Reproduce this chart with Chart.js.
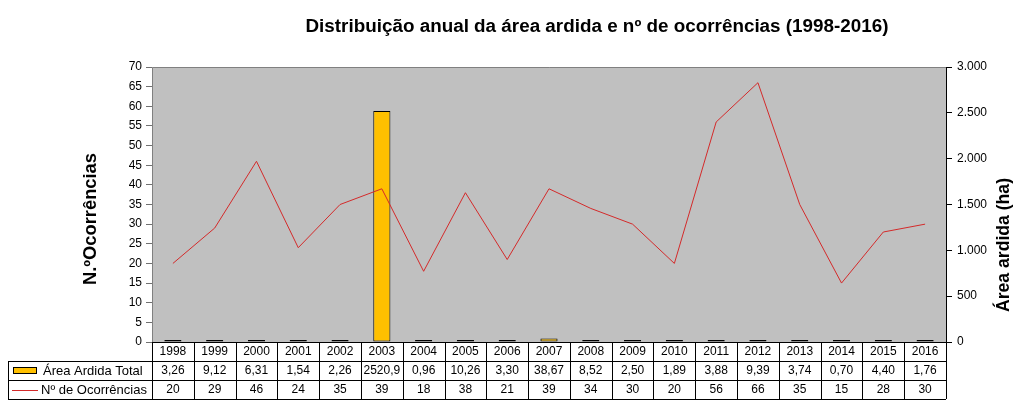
<!DOCTYPE html>
<html>
<head>
<meta charset="utf-8">
<script src="https://cdn.jsdelivr.net/npm/chart.js@4.4.0/dist/chart.umd.min.js"></script>
<style>
  body { margin: 0; background: #fff; }
  canvas { display: block; }
</style>
</head>
<body>
<canvas id="grafico" width="1022" height="401"></canvas>
<script>
// dados
var anos = ["1998", "1999", "2000", "2001", "2002", "2003", "2004", "2005", "2006", "2007", "2008", "2009", "2010", "2011", "2012", "2013", "2014", "2015", "2016"];
var areaArdida = [3.26, 9.12, 6.31, 1.54, 2.26, 2520.9, 0.96, 10.26, 3.30, 38.67, 8.52, 2.50, 1.89, 3.88, 9.39, 3.74, 0.70, 4.40, 1.76];
var ocorrencias = [20, 29, 46, 24, 35, 39, 18, 38, 21, 39, 34, 30, 20, 56, 66, 35, 15, 28, 30];
var titulo = "Distribuição anual da área ardida e nº de ocorrências (1998-2016)";

var FONTE = "Liberation Sans, Arial, sans-serif";

function milhares(v) {
  return String(v).replace(/\B(?=(\d{3})+(?!\d))/g, ".");
}
function decimal(v) {
  return (v >= 1000 ? v.toFixed(1) : v.toFixed(2)).replace(".", ",");
}
// texto ajustado a uma largura (como o Excel comprime o titulo)
function textoLargura(ctx, txt, cx, cy, larg) {
  var w = ctx.measureText(txt).width;
  ctx.save();
  ctx.translate(cx, cy);
  ctx.scale(larg / w, 1);
  ctx.textAlign = 'center';
  ctx.fillText(txt, 0, 0);
  ctx.restore();
}

// fundo cinzento, tabela de dados e titulos
var extras = {
  id: 'extras',
  beforeDraw: function(chart) {
    var ctx = chart.ctx, a = chart.chartArea;
    ctx.save();
    ctx.fillStyle = '#fff';
    ctx.fillRect(0, 0, chart.width, chart.height);
    ctx.fillStyle = '#c0c0c0';
    ctx.fillRect(a.left, a.top, a.right - a.left, a.bottom - a.top);
    ctx.strokeStyle = '#808080';
    ctx.lineWidth = 1;
    ctx.beginPath();
    ctx.moveTo(a.left + 0.5, a.bottom);
    ctx.lineTo(a.left + 0.5, a.top + 0.5);
    ctx.lineTo(a.right, a.top + 0.5);
    ctx.stroke();
    ctx.restore();
  },
  afterDraw: function(chart) {
    var ctx = chart.ctx, a = chart.chartArea, x = chart.scales.x;
    var larg = (a.right - a.left) / anos.length;
    var r0 = a.bottom, r1 = r0 + 19, r2 = r1 + 19, r3 = r2 + 19;
    var esq = 8;
    ctx.save();
    // linhas da tabela
    ctx.strokeStyle = '#000';
    ctx.lineWidth = 1;
    ctx.beginPath();
    ctx.moveTo(a.left, r0 + 0.5); ctx.lineTo(a.right, r0 + 0.5);
    [r1, r2, r3].forEach(function(r) {
      ctx.moveTo(esq, r + 0.5); ctx.lineTo(a.right, r + 0.5);
    });
    ctx.moveTo(esq + 0.5, r1); ctx.lineTo(esq + 0.5, r3);
    for (var i = 0; i <= anos.length; i++) {
      var px = Math.round(x.getPixelForValue(i) - larg / 2) + 0.5;
      if (i == anos.length) px = Math.round(a.right) + 0.5;
      ctx.moveTo(px, r0); ctx.lineTo(px, r3);
    }
    ctx.stroke();

    // valores
    ctx.fillStyle = '#000';
    ctx.font = '12px ' + FONTE;
    ctx.textAlign = 'center';
    ctx.textBaseline = 'middle';
    anos.forEach(function(ano, i) {
      var cx = x.getPixelForValue(i);
      ctx.fillText(ano, cx, r0 + 10);
      ctx.fillText(decimal(areaArdida[i]), cx, r1 + 10);
      ctx.fillText(String(ocorrencias[i]), cx, r2 + 10);
    });

    // legenda na tabela
    ctx.fillStyle = '#ffc000';
    ctx.fillRect(13, r1 + 6, 23, 6);
    ctx.strokeRect(13.5, r1 + 6.5, 23, 6);
    ctx.strokeStyle = '#d42a2a';
    ctx.beginPath();
    ctx.moveTo(12, r2 + 10.5); ctx.lineTo(38, r2 + 10.5);
    ctx.stroke();
    ctx.fillStyle = '#000';
    ctx.font = '13px ' + FONTE;
    ctx.textAlign = 'left';
    ctx.fillText("Área Ardida Total", 43, r1 + 10);
    ctx.fillText("Nº de Ocorrências", 41, r2 + 10);

    // titulo
    ctx.font = 'bold 18px ' + FONTE;
    textoLargura(ctx, titulo, 597, 27, 583);

    // titulos dos eixos
    ctx.font = 'bold 18px ' + FONTE;
    ctx.save();
    ctx.translate(91, 219);
    ctx.rotate(-Math.PI / 2);
    textoLargura(ctx, "N.ºOcorrências", 0, 0, 132);
    ctx.restore();
    ctx.save();
    ctx.translate(1004, 245);
    ctx.rotate(-Math.PI / 2);
    textoLargura(ctx, "Área ardida (ha)", 0, 0, 134);
    ctx.restore();
    ctx.restore();
  }
};

new Chart(document.getElementById("grafico").getContext("2d"), {
  type: 'bar',
  data: {
    labels: anos,
    datasets: [{
      type: 'line',
      label: 'Nº de Ocorrências',
      data: ocorrencias,
      yAxisID: 'y',
      borderColor: '#d42a2a',
      borderWidth: 1,
      pointRadius: 0,
      tension: 0,
      fill: false,
      order: 0
    }, {
      type: 'bar',
      label: 'Área Ardida Total',
      data: areaArdida,
      yAxisID: 'y2',
      backgroundColor: '#ffc000',
      borderColor: '#000',
      borderWidth: 1,
      borderSkipped: false,
      minBarLength: 2,
      categoryPercentage: 1,
      barPercentage: 0.41,
      order: 1
    }]
  },
  options: {
    responsive: false,
    animation: false,
    layout: { padding: { left: 0, right: 0, top: 67, bottom: 59 } },
    plugins: {
      legend: { display: false },
      title: { display: false },
      tooltip: { enabled: false }
    },
    scales: {
      x: { display: false, offset: true },
      y: {
        position: 'left',
        min: 0, max: 70,
        ticks: { stepSize: 5, color: '#000', padding: 4, font: { family: FONTE, size: 12 } },
        grid: { drawOnChartArea: false, tickLength: 6, color: '#707070' },
        border: { display: false },
        afterFit: function(s) { s.width = 152; }
      },
      y2: {
        position: 'right',
        min: 0, max: 3000,
        ticks: { stepSize: 500, color: '#000', padding: 5, font: { family: FONTE, size: 12 },
          callback: function(v) { return milhares(v); } },
        grid: { drawOnChartArea: false, tickLength: 6, color: '#000' },
        border: { display: true, color: '#000' },
        afterFit: function(s) { s.width = 76; }
      }
    }
  },
  plugins: [extras]
});
</script>
</body>
</html>
